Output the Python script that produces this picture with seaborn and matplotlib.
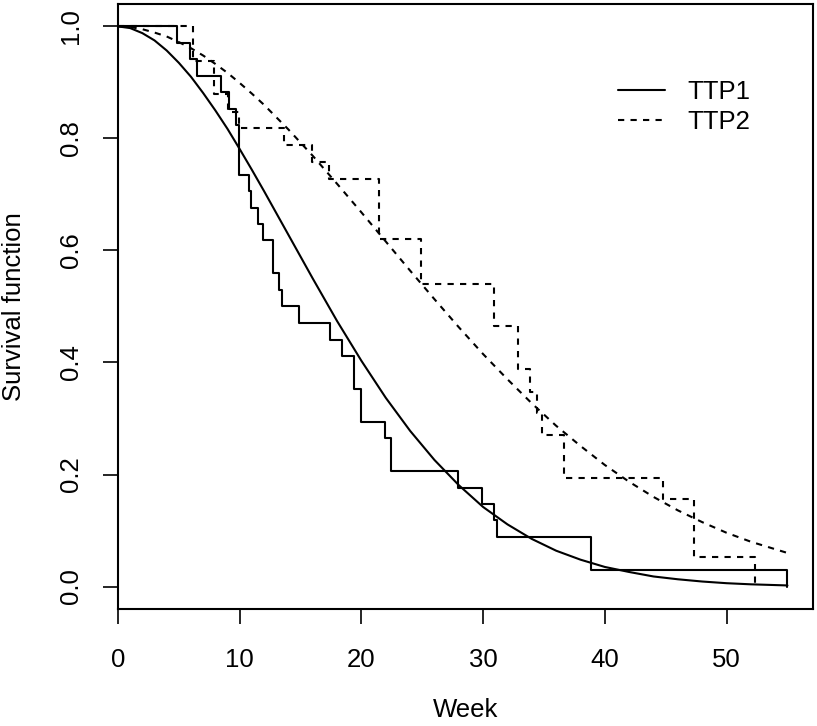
import matplotlib
matplotlib.use('Agg')
import matplotlib.pyplot as plt
from matplotlib.lines import Line2D
import pandas as pd
import seaborn as sns

# Kaplan-Meier steps, TTP1 (solid)
ttp1_week = [0, 4.85, 5.92, 6.46, 8.48, 9.1, 9.7, 9.93, 10.8, 10.94, 11.5, 11.92,
             12.74, 13.2, 13.47, 14.9, 17.4, 18.4, 19.4, 19.94, 21.93, 22.42,
             27.93, 29.9, 30.88, 31.15, 38.87, 55]
ttp1_surv = [1.0, 0.971, 0.941, 0.912, 0.882, 0.853, 0.824, 0.735, 0.706, 0.676,
             0.647, 0.618, 0.559, 0.529, 0.500, 0.471, 0.441, 0.412, 0.353, 0.294,
             0.265, 0.206, 0.176, 0.147, 0.118, 0.088, 0.029, 0.0]

# Kaplan-Meier steps, TTP2 (dashed)
ttp2_week = [0, 6.16, 7.9, 9.05, 9.93, 13.6, 15.9, 17.3, 21.44, 24.9, 30.9,
             32.85, 33.85, 34.45, 34.85, 36.65, 44.8, 47.3, 52.3]
ttp2_surv = [1.0, 0.939, 0.879, 0.848, 0.818, 0.788, 0.758, 0.727, 0.620, 0.541,
             0.465, 0.388, 0.348, 0.310, 0.271, 0.194, 0.156, 0.052, 0.0]

# fitted smooth curves
fit_week = [0, 1, 2, 3, 4, 5, 6, 7, 8, 9, 10, 11, 12, 13, 14, 16, 18, 20, 22, 24,
            26, 28, 30, 32, 34, 36, 38, 40, 42, 44, 46, 48, 50, 52, 55]
fit1_surv = [1.0, 0.997, 0.988, 0.975, 0.957, 0.935, 0.910, 0.881, 0.850, 0.817,
             0.781, 0.744, 0.706, 0.667, 0.628, 0.550, 0.474, 0.403, 0.337, 0.278,
             0.226, 0.181, 0.142, 0.111, 0.085, 0.064, 0.048, 0.035, 0.026, 0.018,
             0.013, 0.009, 0.006, 0.004, 0.002]
fit2_surv = [1.0, 0.999, 0.995, 0.989, 0.982, 0.972, 0.961, 0.948, 0.933, 0.917,
             0.899, 0.880, 0.860, 0.838, 0.816, 0.769, 0.719, 0.668, 0.616, 0.564,
             0.513, 0.463, 0.415, 0.370, 0.327, 0.287, 0.251, 0.217, 0.187, 0.160,
             0.136, 0.115, 0.096, 0.080, 0.060]

x_ticks = [0, 10, 20, 30, 40, 50]
y_ticks = [0.0, 0.2, 0.4, 0.6, 0.8, 1.0]
series_names = ['TTP1', 'TTP2']

sns.set_style('ticks')
plt.rcParams['font.family'] = ['Liberation Sans', 'DejaVu Sans']
plt.rcParams['font.size'] = 18.5
plt.rcParams['text.color'] = 'black'
plt.rcParams['axes.labelcolor'] = 'black'
plt.rcParams['xtick.color'] = 'black'
plt.rcParams['ytick.color'] = 'black'

km1 = pd.DataFrame({'week': ttp1_week, 'surv': ttp1_surv})
km2 = pd.DataFrame({'week': ttp2_week, 'surv': ttp2_surv})
fit = pd.DataFrame({'week': fit_week, 'fit1': fit1_surv, 'fit2': fit2_surv})

fig = plt.figure(figsize=(8.17, 7.26), dpi=100)
ax = fig.add_axes([0.1444, 0.1612, 0.8507, 0.8333])

solido = dict(color='black', linewidth=1.5)
tracejado = dict(color='black', linewidth=1.5, linestyle=(0, (3, 3)))

sns.lineplot(data=km1, x='week', y='surv', drawstyle='steps-post', estimator=None, ax=ax, **solido)
sns.lineplot(data=fit, x='week', y='fit1', estimator=None, ax=ax, **solido)
sns.lineplot(data=km2, x='week', y='surv', drawstyle='steps-post', estimator=None, ax=ax, **tracejado)
sns.lineplot(data=fit, x='week', y='fit2', estimator=None, ax=ax, **tracejado)

ax.set_xlim(0, 57.1)
ax.set_ylim(-0.04, 1.04)
ax.set_xticks(x_ticks)
ax.set_xticklabels([str(t) for t in x_ticks])
ax.set_yticks(y_ticks)
ax.set_yticklabels(['%.1f' % t for t in y_ticks], rotation=90, va='center')
ax.tick_params(length=11, width=1.2, pad=17, labelsize=18.5, color='black', labelcolor='black')
ax.tick_params(axis='y', pad=14)
for s in ax.spines.values():
    s.set_visible(True)
    s.set_linewidth(1.5)
    s.set_color('black')

ax.set_xlabel('Week', fontsize=18.5, labelpad=19)
ax.set_ylabel('Survival function', fontsize=18.5, labelpad=24)

handles = [Line2D([], [], **solido), Line2D([], [], **tracejado)]
ax.legend(handles, series_names, loc='upper left', bbox_to_anchor=(0.728, 0.921),
          bbox_transform=fig.transFigure, frameon=False, fontsize=18.5,
          handlelength=1.83, handletextpad=0.86, labelspacing=0.21)

plt.savefig('out.png', dpi=100)
